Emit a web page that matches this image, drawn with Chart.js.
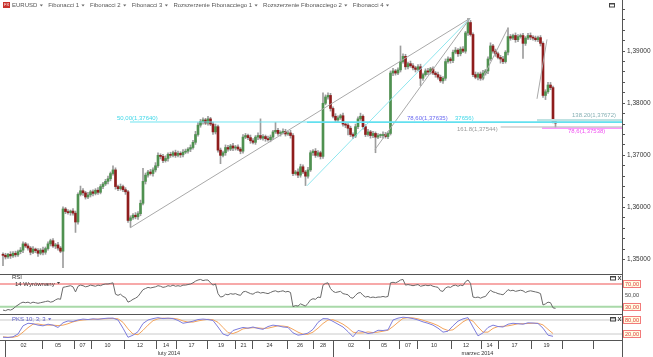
<!DOCTYPE html>
<html>
<head>
<meta charset="utf-8">
<script src="https://cdn.jsdelivr.net/npm/chart.js@4.4.1/dist/chart.umd.min.js"></script>
<style>
html,body{margin:0;padding:0;background:#fff;overflow:hidden}
#wrap{position:relative;width:653px;height:357px;background:#fff}
canvas{position:absolute;left:0;display:block}
</style>
</head>
<body>
<div id="wrap">
<canvas id="cMain" width="653" height="274" style="top:0"></canvas>
<canvas id="cRsi" width="653" height="40" style="top:274px"></canvas>
<canvas id="cPks" width="653" height="43" style="top:314px"></canvas>
</div>
<script>
// ---------------- DATA ----------------
const legendItems = ['EURUSD','Fibonacci 1','Fibonacci 2','Fibonacci 3','Rozszerzenie Fibonacciego 1','Rozszerzenie Fibonacciego 2','Fibonacci 4'];

const firstOpen = 1.3510;
const closes = [
1.3508,1.3505,1.3510,1.3507,1.3512,1.3509,1.3515,1.3518,1.3530,1.3526,
1.3522,1.3514,1.3520,1.3517,1.3512,1.3518,1.3514,1.3521,1.3530,1.3536,
1.3526,1.3528,1.3522,1.3516,1.3597,1.3592,1.3590,1.3593,1.3589,1.3572,
1.3625,1.3632,1.3628,1.3620,1.3624,1.3630,1.3627,1.3633,1.3629,1.3640,
1.3645,1.3650,1.3655,1.3665,1.3672,1.3640,1.3636,1.3640,1.3634,1.3630,
1.3575,1.3580,1.3585,1.3582,1.3588,1.3608,1.3650,1.3662,1.3668,1.3665,
1.3672,1.3680,1.3700,1.3698,1.3690,1.3694,1.3702,1.3700,1.3705,1.3700,
1.3704,1.3701,1.3706,1.3708,1.3712,1.3715,1.3725,1.3740,1.3758,1.3765,
1.3768,1.3762,1.3770,1.3760,1.3745,1.3755,1.3710,1.3700,1.3705,1.3715,
1.3712,1.3718,1.3714,1.3716,1.3712,1.3708,1.3735,1.3738,1.3734,1.3728,
1.3725,1.3735,1.3738,1.3733,1.3736,1.3732,1.3730,1.3735,1.3745,1.3748,
1.3742,1.3744,1.3746,1.3741,1.3743,1.3738,1.3665,1.3668,1.3662,1.3678,
1.3668,1.3660,1.3672,1.3705,1.3708,1.3700,1.3705,1.3698,1.3800,1.3812,
1.3815,1.3790,1.3775,1.3768,1.3772,1.3776,1.3760,1.3758,1.3752,1.3740,
1.3737,1.3755,1.3770,1.3775,1.3755,1.3740,1.3745,1.3738,1.3742,1.3735,
1.3738,1.3738,1.3740,1.3736,1.3742,1.3858,1.3862,1.3858,1.3864,1.3880,
1.3890,1.3870,1.3876,1.3872,1.3868,1.3865,1.3870,1.3848,1.3855,1.3862,
1.3860,1.3866,1.3858,1.3855,1.3850,1.3843,1.3848,1.3880,1.3885,1.3882,
1.3898,1.3902,1.3895,1.3904,1.3900,1.3935,1.3955,1.3932,1.3855,1.3850,
1.3856,1.3848,1.3858,1.3862,1.3885,1.3910,1.3900,1.3895,1.3888,1.3885,
1.3880,1.3898,1.3928,1.3925,1.3930,1.3922,1.3928,1.3930,1.3915,1.3925,
1.3930,1.3927,1.3925,1.3922,1.3926,1.3915,1.3815,1.3822,1.3835,1.3830,
1.3765,1.3762];
// wick lengths in pips above the body top / below the body bottom
const upperWick = [
3,4,2,5,3,4,3,5,4,3, 4,3,5,2,4,3,6,3,4,3, 4,3,5,3,4,3,4,2,5,4, 3,9,4,3,5,3,4,3,5,4,
3,4,5,3,8,4,3,5,3,4, 3,4,3,5,4,6,25,4,3,5, 4,6,5,3,4,5,3,4,3,5, 4,3,5,4,3,5,4,6,5,4,
4,3,5,3,4,5,3,4,3,5, 4,3,5,3,4,3,5,4,3,5, 4,3,5,32,4,3,5,4,3,15, 4,3,5,4,3,5,4,3,6,5,
4,3,5,4,3,5,4,3,20,4, 5,4,3,5,4,3,5,4,3,4, 3,5,4,6,3,4,5,3,4,3, 4,3,5,4,3,4,5,3,4,30,
5,4,3,5,4,3,4,5,3,4, 5,3,4,3,5,4,3,5,4,3, 4,5,3,4,5,3,8,4,3,5, 3,4,5,3,4,6,3,4,3,4,
5,3,17,4,3,5,4,3,4,3, 4,5,3,4,3,4,3,4,5,5, 3,4];
const lowerWick = [
20,4,3,5,3,4,3,4,5,3, 4,5,3,4,6,3,5,4,3,4, 3,5,4,3,34,4,3,5,4,20, 4,3,5,4,3,4,5,3,4,3,
4,3,5,4,3,5,4,3,4,5, 4,13,3,4,5,4,3,5,4,3, 5,4,3,5,4,3,5,4,3,4, 3,5,4,3,4,5,3,4,3,4,
5,3,4,3,5,4,4,16,3,5, 4,3,5,4,3,5,4,3,4,5, 3,4,5,3,4,5,3,4,5,3, 4,5,3,4,3,5,4,3,5,4,
3,18,4,3,5,4,3,5,4,3, 4,5,3,4,5,3,4,5,13,4, 5,3,4,3,5,4,3,5,4,30, 3,4,5,3,4,3,5,4,3,4,
3,5,4,3,4,5,3,14,4,3, 5,4,3,5,4,3,5,4,3,5, 4,3,5,4,3,4,5,3,4,3, 5,4,3,4,5,3,4,5,3,8,
4,3,5,4,3,5,4,3,29,4, 3,5,4,3,4,5,4,8,3,4, 3,8];

// RSI(14), one value per candle
const rsiValues = [
24,23,25,24,26,30,33,36,38,37,38,36,38,37,36,37,38,39,40,38,39,42,44,43,64,65,66,67,65,56,
66,68,67,65,66,68,67,66,68,67,69,70,70,71,72,52,50,52,48,46,38,40,43,45,48,54,60,62,64,63,
64,65,67,66,64,65,67,66,68,66,67,66,68,68,69,70,72,75,77,78,76,77,77,72,68,70,53,47,48,52,
51,53,52,53,51,50,56,57,55,53,52,55,56,54,55,54,53,55,57,58,56,57,58,56,57,55,30,32,31,35,
33,31,36,42,44,43,47,46,68,71,72,62,57,55,56,57,53,52,51,46,45,50,54,55,50,47,48,46,47,46,
47,47,48,47,48,72,73,72,74,77,78,68,69,68,67,68,69,66,67,68,67,68,66,65,64,58,57,63,65,64,
67,68,66,68,67,74,77,71,47,46,47,45,47,48,54,59,56,55,53,52,51,55,60,58,59,57,58,59,58,55,
57,58,57,56,55,53,33,35,38,37,28,27];
const rsiLevels = [70, 30];

// PKS 10;3;3 (stochastic) sampled every 2nd candle
const pksStep = 2;
const pksK = [6,5,8,20,55,66,64,58,55,62, 58,48,68,76,74,80,84,82,85,83, 86,88,88,80,45,6,15,30,65,80,
 86,90,86,88,86,78,66,70,75,82, 84,82,78,50,20,12,35,42,48,45, 50,44,40,52,58,55,50,48,25,15,
 18,24,40,70,86,85,74,62,50,30, 8,35,30,22,25,36,35,38,80,88, 92,90,86,80,72,66,58,45,28,32,
 55,75,85,90,50,12,25,48,58,52, 50,62,66,64,62,68,67,65,45,15, 10];
const pksD = [8,6,6,11,28,47,62,63,59,58, 58,56,58,64,72,77,80,82,83,84, 85,86,87,85,70,42,20,17,36,58,
 77,85,88,87,87,84,76,71,71,76, 80,83,81,70,48,26,22,30,42,45, 47,46,44,45,50,55,54,51,40,28,
 19,19,28,45,65,80,81,73,62,47, 28,24,25,29,26,28,32,36,52,70, 87,90,89,85,79,72,65,56,43,35,
 38,55,72,84,75,50,28,28,44,52, 53,55,59,64,64,65,66,66,59,40, 22];
const pksLevels = [80, 20];

// price axis labels
const priceMajor = [1.35, 1.36, 1.37, 1.38, 1.39];
const priceTickLabels = ['1,35000','1,36000','1,37000','1,38000','1,39000'];
const rsiTickValues = [70, 50, 30];
const rsiTickLabels = ['70,00','50,00','30,00'];
const pksTickValues = [80, 20];
const pksTickLabels = ['80,00','20,00'];

// time axis (candle index units)
const dayLabels = ['02','05','07','10','12','14','17','19','21','24','26','28','02','05','07','10','12','14','17','19'];
const dayBounds = [0.8,15.6,28.4,35.2,48.4,61.2,69.2,81.6,92.8,99.6,113.6,124,132,146.4,158.4,165.6,179.2,191.2,198,211.2,223.6,236];
const monthLabels = ['luty 2014','marzec 2014'];
const monthBounds = [0.8, 132];

// drawing tools (candle index, price)
const fanGray = [
  [[50.8,1.35607],[186.8,1.39631]],
  [[148.8,1.37113],[186.8,1.39631]],
  [[191.6,1.38454],[202,1.39446]],
  [[213.6,1.38085],[217.6,1.39226]]
];
const fanCyan = [
  [[121.6,1.36415],[186.8,1.39631]]
];
const levelPrices = [1.37640, 1.37635, 1.37672, 1.37544, 1.37520];
const levelStarts = [50.8, 121.6, 213.6, 186.8, 215.6];
const levelTexts = ['50,00(1,37640)','78,60(1,37635)','37656)','161.8(1,37544)','138.20(1,37672)','78,6(1,37538)'];
const levelTextAt = [[45.6,1.37640],[161.6,1.37640],[180.8,1.37640],[181.6,1.37544],[227.6,1.37672],[226.0,1.37520]];

// ---------------- STYLE / LAYOUT ----------------
const FONT = '"Liberation Sans", Arial, sans-serif';
Chart.defaults.font.family = FONT;
Chart.defaults.animation = false;
const X_MIN = -1.2, X_MAX = 247.6, AXIS_W = 31;
const PRICE_MIN = 1.34835, PRICE_MAX = 1.39869;
const PIP = 0.0001;
const UP = '#4f9150', DOWN = '#8f1d1d', WICK = '#9d9d9d';
const AXIS_C = '#555';

const opens = closes.map((c,i)=> i===0 ? firstOpen : closes[i-1]);
const highs = closes.map((c,i)=> Math.max(opens[i],c) + upperWick[i]*PIP);
const lows = closes.map((c,i)=> Math.min(opens[i],c) - lowerWick[i]*PIP);

const priceTicks = [];
for (let k = 0; k <= 24; k++) priceTicks.push(+(1.350 + k*0.002).toFixed(3));

function xCfg(){ return {type:'linear', min:X_MIN, max:X_MAX, display:false, offset:false}; }
function lineSet(pts, color, width, order){
  return {type:'line', data: pts.map(p=>({x:p[0], y:p[1]})), borderColor:color, borderWidth:width,
    pointRadius:0, fill:false, tension:0, order: order||1};
}
function txt(ctx, s, x, y, size, color, align, base){
  ctx.font = size + 'px ' + FONT; ctx.fillStyle = color;
  ctx.textAlign = align || 'left'; ctx.textBaseline = base || 'middle';
  ctx.fillText(s, x, y);
}
function tri(ctx, x, y, color){
  ctx.fillStyle = color; ctx.beginPath(); ctx.moveTo(x-1.6,y-1); ctx.lineTo(x+1.6,y-1); ctx.lineTo(x,y+1); ctx.closePath(); ctx.fill();
}
function icons(ctx, x, y, withX){
  ctx.strokeStyle = '#444'; ctx.lineWidth = 1;
  ctx.strokeRect(x+0.5, y+0.5, 5, 3.5);
  ctx.fillStyle='#444'; ctx.fillRect(x+0.5,y+0.5,5,1);
  if (withX){ ctx.beginPath(); ctx.moveTo(x+8,y); ctx.lineTo(x+11,y+4); ctx.moveTo(x+11,y); ctx.lineTo(x+8,y+4); ctx.stroke(); }
}
function rightAxisLine(chart){
  const ctx = chart.ctx, x = Math.round(chart.chartArea.right)+0.5;
  ctx.save(); ctx.strokeStyle = AXIS_C; ctx.lineWidth = 1;
  ctx.beginPath(); ctx.moveTo(x,0); ctx.lineTo(x,chart.height); ctx.stroke(); ctx.restore();
}
function boxLabels(chart, values, labels, boxed){
  const ctx = chart.ctx, ys = chart.scales.y, x0 = chart.chartArea.right + 1;
  ctx.save();
  values.forEach((v,k)=>{
    const y = ys.getPixelForValue(v);
    if (boxed[k]){
      ctx.fillStyle = '#ffffe4'; ctx.fillRect(x0, y-3.8, 18, 7.6);
      ctx.strokeStyle = '#f27a7a'; ctx.lineWidth = 1; ctx.strokeRect(x0+0.5, Math.round(y-3.8)+0.5, 17, 7);
      txt(ctx, labels[k], x0+9, y+0.3, 5.6, '#e03c3c', 'center');
    } else {
      txt(ctx, labels[k], x0+9, y+0.3, 5.6, '#444', 'center');
    }
  });
  ctx.restore();
}
function hline(ctx, y, x1, x2, color){
  ctx.strokeStyle = color; ctx.lineWidth = 1; ctx.beginPath();
  ctx.moveTo(x1, Math.round(y)+0.5); ctx.lineTo(x2, Math.round(y)+0.5); ctx.stroke();
}

// ---------------- MAIN CHART ----------------
const mainOverlay = {
  id:'mainOverlay',
  afterDatasetsDraw(chart){
    const ctx = chart.ctx, xs = chart.scales.x, ys = chart.scales.y;
    ctx.save();
    const colors = ['#3fd7e8','#6a6af0','#3fd7e8','#9a9a9a','#86b0b4','#f050f0'];
    const bgs = [false,false,false,true,false,false];
    const dys = [-4,-4,-4,2,-5,3.5];
    levelTexts.forEach((s,k)=>{
      const x = xs.getPixelForValue(levelTextAt[k][0]);
      const y = ys.getPixelForValue(levelTextAt[k][1]) + dys[k];
      ctx.font = '6px ' + FONT;
      const w = ctx.measureText(s).width;
      if (bgs[k]){ ctx.fillStyle = '#fff'; ctx.fillRect(x-3, y-3.5, w+6, 5.5); }
      txt(ctx, s, x, y, 6, colors[k]);
    });
    ctx.restore();
  },
  afterDraw(chart){
    const ctx = chart.ctx;
    ctx.save();
    ctx.fillStyle = '#c8322d'; ctx.fillRect(3, 2, 7, 6);
    txt(ctx, 'FX', 6.5, 5.2, 4, '#fff', 'center');
    let x = 12;
    legendItems.forEach((s)=>{
      txt(ctx, s, x, 5.5, 6, '#555');
      ctx.font = '6px ' + FONT;
      x += ctx.measureText(s).width + 4;
      tri(ctx, x, 5.6, '#666');
      x += 7;
    });
    icons(ctx, 609, 3, false);
    ctx.restore();
    rightAxisLine(chart);
  }
};

const mainDatasets = [
  {type:'bar', data: closes.map((c,i)=>({x:i, y:[lows[i], highs[i]]})), backgroundColor: WICK,
    barThickness:1, grouped:false, order:3},
  {type:'bar', data: closes.map((c,i)=>({x:i, y:[opens[i], c]})),
    backgroundColor: closes.map((c,i)=> c>=opens[i] ? UP : DOWN), barThickness:2, grouped:false, minBarLength:1, order:2}
];
const levelColors = ['#6fe4f0','#57dced','#bfe2e2','#b4b4b4','#ff96ff'];
const levelWidths = [1, 1.5, 2.5, 1, 1.5];
levelPrices.forEach((p,k)=> mainDatasets.push(lineSet([[levelStarts[k],p],[X_MAX,p]], levelColors[k], levelWidths[k], 1)));
fanGray.forEach(seg => mainDatasets.push(lineSet(seg, '#a9a9a9', 1, 1)));
fanCyan.forEach(seg => mainDatasets.push(lineSet(seg, '#8fe6ee', 1, 1)));

new Chart(document.getElementById('cMain'), {
  type:'bar',
  data:{datasets: mainDatasets},
  options:{
    responsive:false, animation:false, events:[],
    layout:{padding:0},
    plugins:{legend:{display:false}, tooltip:{enabled:false}},
    scales:{
      x: xCfg(),
      y:{position:'right', min:PRICE_MIN, max:PRICE_MAX,
        afterFit: s => { s.width = AXIS_W; },
        afterBuildTicks: s => { s.ticks = priceTicks.map(v=>({value:v})); },
        ticks:{autoSkip:false, padding:2, color:'#333', font:{size:6.5},
          callback: v => { const k = priceMajor.findIndex(m => Math.abs(m - v) < 1e-6); return k >= 0 ? priceTickLabels[k] : ''; }},
        grid:{drawOnChartArea:false, drawTicks:true, tickLength:3, color:AXIS_C},
        border:{display:false}
      }
    }
  },
  plugins:[mainOverlay]
});

// ---------------- RSI ----------------
const rsiOverlay = {
  id:'rsiOverlay',
  afterDraw(chart){
    const ctx = chart.ctx, a = chart.chartArea;
    ctx.save();
    hline(ctx, 0, 0, a.right, AXIS_C);
    txt(ctx, 'RSI', 12, 3.5, 6, '#333');
    txt(ctx, '14 Wyrównany', 15, 10.5, 6, '#333');
    tri(ctx, 58.5, 9, '#444');
    icons(ctx, 610, 2, true);
    ctx.restore();
    boxLabels(chart, rsiTickValues, rsiTickLabels, [true,false,true]);
    rightAxisLine(chart);
  }
};
const rsiDatasets = [
  lineSet(rsiValues.map((v,i)=>[i,v]), '#6a6a6a', 1, 1)
];
const rsiLevelColors = ['#f7a9a9','#a9d9a9'];
rsiLevels.forEach((v,k)=> rsiDatasets.push(lineSet([[X_MIN,v],[X_MAX,v]], rsiLevelColors[k], 2, 2)));

new Chart(document.getElementById('cRsi'), {
  type:'line',
  data:{datasets: rsiDatasets},
  options:{
    responsive:false, animation:false, events:[], layout:{padding:0},
    plugins:{legend:{display:false}, tooltip:{enabled:false}},
    scales:{
      x: xCfg(),
      y:{position:'right', min:17.1, max:87.6, afterFit: s => { s.width = AXIS_W; },
        ticks:{display:false}, grid:{display:false}, border:{display:false}}
    }
  },
  plugins:[rsiOverlay]
});

// ---------------- PKS + time axis ----------------
const pksOverlay = {
  id:'pksOverlay',
  afterDraw(chart){
    const ctx = chart.ctx, a = chart.chartArea, xs = chart.scales.x;
    ctx.save();
    hline(ctx, 0, 0, a.right, AXIS_C);
    hline(ctx, a.bottom, 0, a.right, AXIS_C);
    txt(ctx, 'PKS 10; 3; 3', 12, 5, 6, '#5d5dc8');
    ctx.font = '6px ' + FONT;
    tri(ctx, 12 + ctx.measureText('PKS 10; 3; 3').width + 4, 5.2, '#5d5dc8');
    icons(ctx, 610, 3, true);
    ctx.strokeStyle = '#555'; ctx.lineWidth = 1;
    dayBounds.forEach(b=>{
      const x = Math.round(xs.getPixelForValue(b)) + 0.5;
      ctx.beginPath(); ctx.moveTo(x, a.bottom); ctx.lineTo(x, a.bottom + 9); ctx.stroke();
    });
    dayLabels.forEach((s,k)=>{
      const x = xs.getPixelForValue((dayBounds[k] + dayBounds[k+1]) / 2);
      txt(ctx, s, x, a.bottom + 5, 5.5, '#333', 'center');
    });
    monthBounds.forEach(b=>{
      const x = Math.round(xs.getPixelForValue(b)) + 0.5;
      ctx.beginPath(); ctx.moveTo(x, a.bottom); ctx.lineTo(x, chart.height); ctx.stroke();
    });
    monthLabels.forEach((s,k)=>{
      const end = k+1 < monthBounds.length ? monthBounds[k+1] : X_MAX;
      const x = xs.getPixelForValue((monthBounds[k] + end) / 2);
      txt(ctx, s, x, a.bottom + 13.5, 5.5, '#333', 'center');
    });
    ctx.restore();
    boxLabels(chart, pksTickValues, pksTickLabels, [true,true]);
    rightAxisLine(chart);
  }
};
const pksDatasets = [
  lineSet(pksD.map((v,i)=>[i*pksStep, v]), '#f3a45c', 1, 2),
  lineSet(pksK.map((v,i)=>[i*pksStep, v]), '#7d7ddc', 1, 1)
];
pksLevels.forEach(v => pksDatasets.push(lineSet([[X_MIN,v],[X_MAX,v]], '#cacaca', 1, 3)));

new Chart(document.getElementById('cPks'), {
  type:'line',
  data:{datasets: pksDatasets},
  options:{
    responsive:false, animation:false, events:[], layout:{padding:{bottom:17}},
    plugins:{legend:{display:false}, tooltip:{enabled:false}},
    scales:{
      x: xCfg(),
      y:{position:'right', min:-5.7, max:105.7, afterFit: s => { s.width = AXIS_W; },
        ticks:{display:false}, grid:{display:false}, border:{display:false}}
    }
  },
  plugins:[pksOverlay]
});
</script>
</body>
</html>
